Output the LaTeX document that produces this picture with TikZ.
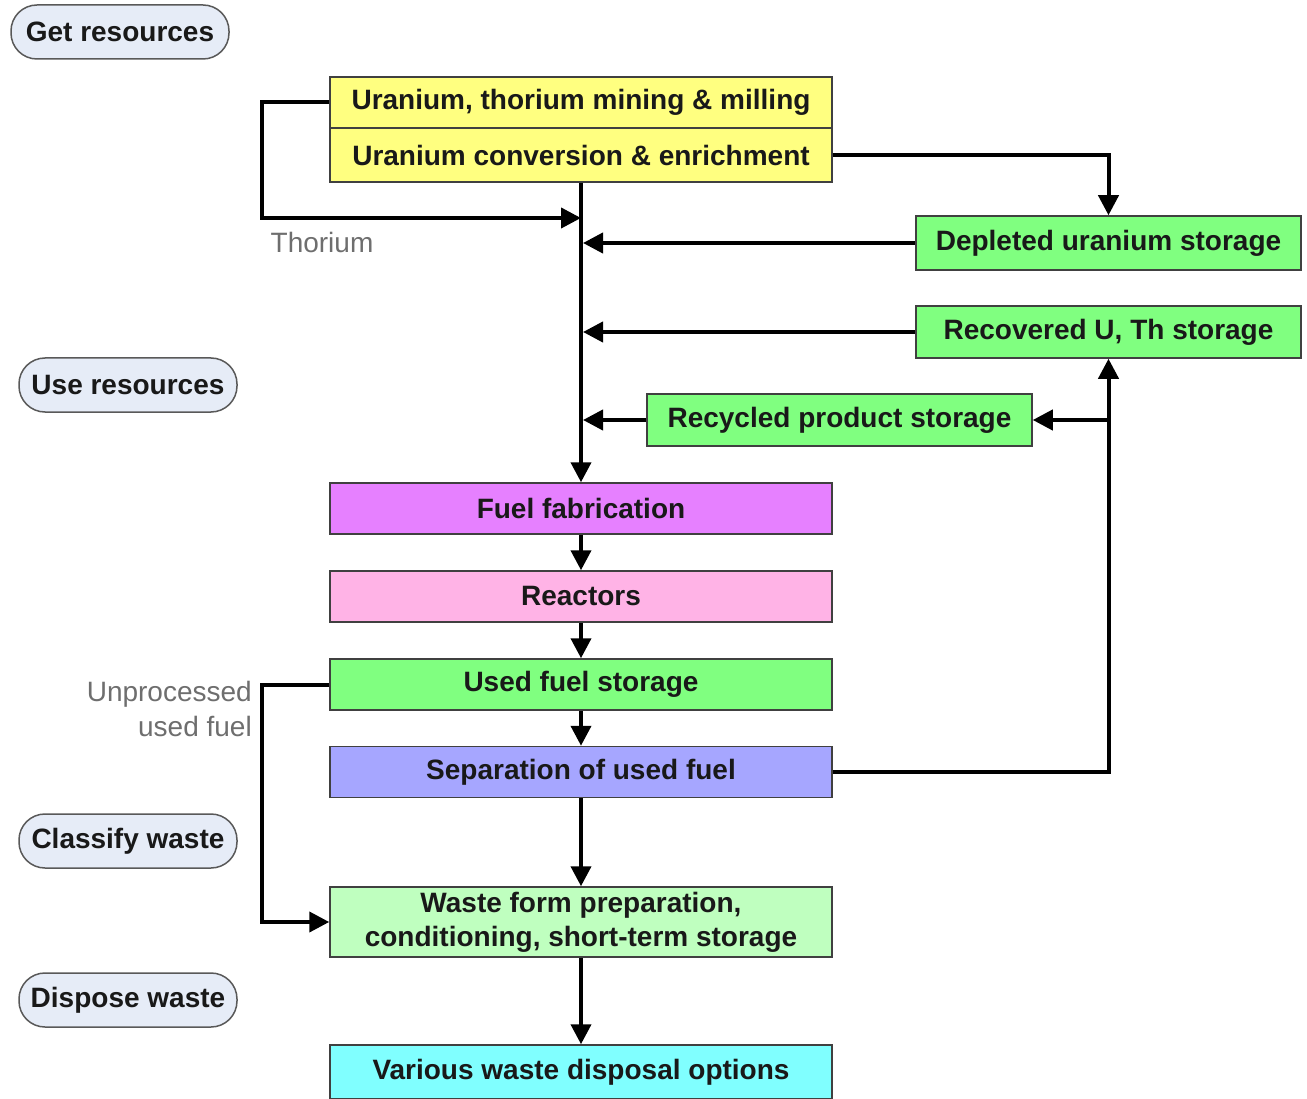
\documentclass[tikz,border=0pt]{standalone}
\usepackage{fontspec}
\setmainfont{Liberation Sans}
\usetikzlibrary{arrows.meta}

\definecolor{ylw}{RGB}{255,255,128}
\definecolor{grn}{RGB}{128,255,128}
\definecolor{mag}{RGB}{230,128,255}
\definecolor{pnk}{RGB}{255,179,230}
\definecolor{blu}{RGB}{166,166,255}
\definecolor{lgrn}{RGB}{191,255,191}
\definecolor{cyn}{RGB}{128,255,255}
\definecolor{phasefill}{RGB}{230,236,247}
\definecolor{ink}{RGB}{25,25,25}
\definecolor{notegray}{RGB}{110,110,110}

\tikzset{
  proc/.style={draw=black!75, line width=1.5pt, minimum width=502pt,
    minimum height=51pt, inner sep=0pt, text=ink,
    font=\fontsize{28}{34}\selectfont\bfseries},
  phase/.style={draw=black!65, line width=1.5pt, fill=phasefill,
    rounded corners=26pt, minimum width=218pt, minimum height=54pt,
    inner sep=0pt, text=ink, font=\fontsize{28}{34}\selectfont\bfseries},
  flow/.style={line width=4pt, line join=miter,
    -{Triangle[width=20pt,length=20pt]}},
  link/.style={line width=4pt, line join=miter},
  note/.style={font=\fontsize{28}{35}\selectfont, text=notegray, inner sep=0pt}
}

\begin{document}
\begin{tikzpicture}[x=1pt,y=-1pt]
\useasboundingbox[fill=white] (0,0) rectangle (1307,1099);

% phase labels
\node[phase] (p1) at (120,32) {Get resources};
\node[phase] (p2) at (128,385) {Use resources};
\node[phase] (p3) at (128,841) {Classify waste};
\node[phase] (p4) at (128,1000) {Dispose waste};

% process boxes
\node[proc, fill=ylw] (mine) at (581,102.5) {Uranium, thorium mining \& milling};
\node[proc, fill=ylw, minimum height=54pt] (conv) at (581,155) {Uranium conversion \& enrichment};
\node[proc, fill=grn, minimum width=385pt, minimum height=54pt] (dep) at (1108.5,243) {Depleted uranium storage};
\node[proc, fill=grn, minimum width=385pt, minimum height=52pt] (rec) at (1108.5,332) {Recovered U, Th storage};
\node[proc, fill=grn, minimum width=385pt, minimum height=52pt] (recy) at (839.5,420) {Recycled product storage};
\node[proc, fill=mag] (fab) at (581,508.5) {Fuel fabrication};
\node[proc, fill=pnk] (reac) at (581,596.5) {Reactors};
\node[proc, fill=grn] (used) at (581,684.5) {Used fuel storage};
\node[proc, fill=blu] (sep) at (581,772) {Separation of used fuel};
\node[proc, fill=lgrn, minimum height=70pt, align=center] (waste) at (581,922)
  {Waste form preparation,\\conditioning, short-term storage};
\node[proc, fill=cyn, minimum height=54pt] (disp) at (581,1072) {Various waste disposal options};

% side labels
\node[note] (thlab) at (322,242) {Thorium};
\node[note, align=right, anchor=east] (uplab) at (252,708.5) {Unprocessed\\used fuel};

% helper points
\coordinate (thc) at (262,218);
\coordinate (upc) at (262,684.5);

% main trunk
\draw[flow] (conv.south) -- (fab.north);
\draw[flow] (mine.west) -| (thc) -- (thc -| conv.south);
\draw[flow] (conv.east) -| (dep.north);
\draw[flow] (dep.west) -- ([xshift=2pt]dep.west -| conv.south);
\draw[flow] (rec.west) -- ([xshift=2pt]rec.west -| conv.south);
\draw[flow] (recy.west) -- ([xshift=2pt]recy.west -| conv.south);

% reactor chain
\draw[flow] (fab.south) -- (reac.north);
\draw[flow] (reac.south) -- (used.north);
\draw[flow] (used.south) -- (sep.north);
\draw[flow] (sep.south) -- (waste.north);
\draw[flow] (waste.south) -- (disp.north);

% recycling loop
\draw[flow] (sep.east) -| (rec.south);
\draw[flow] (rec.south |- recy.east) -- (recy.east);

% unprocessed used fuel
\draw[flow] (used.west) -- (upc) |- (waste.west);
\end{tikzpicture}
\end{document}
